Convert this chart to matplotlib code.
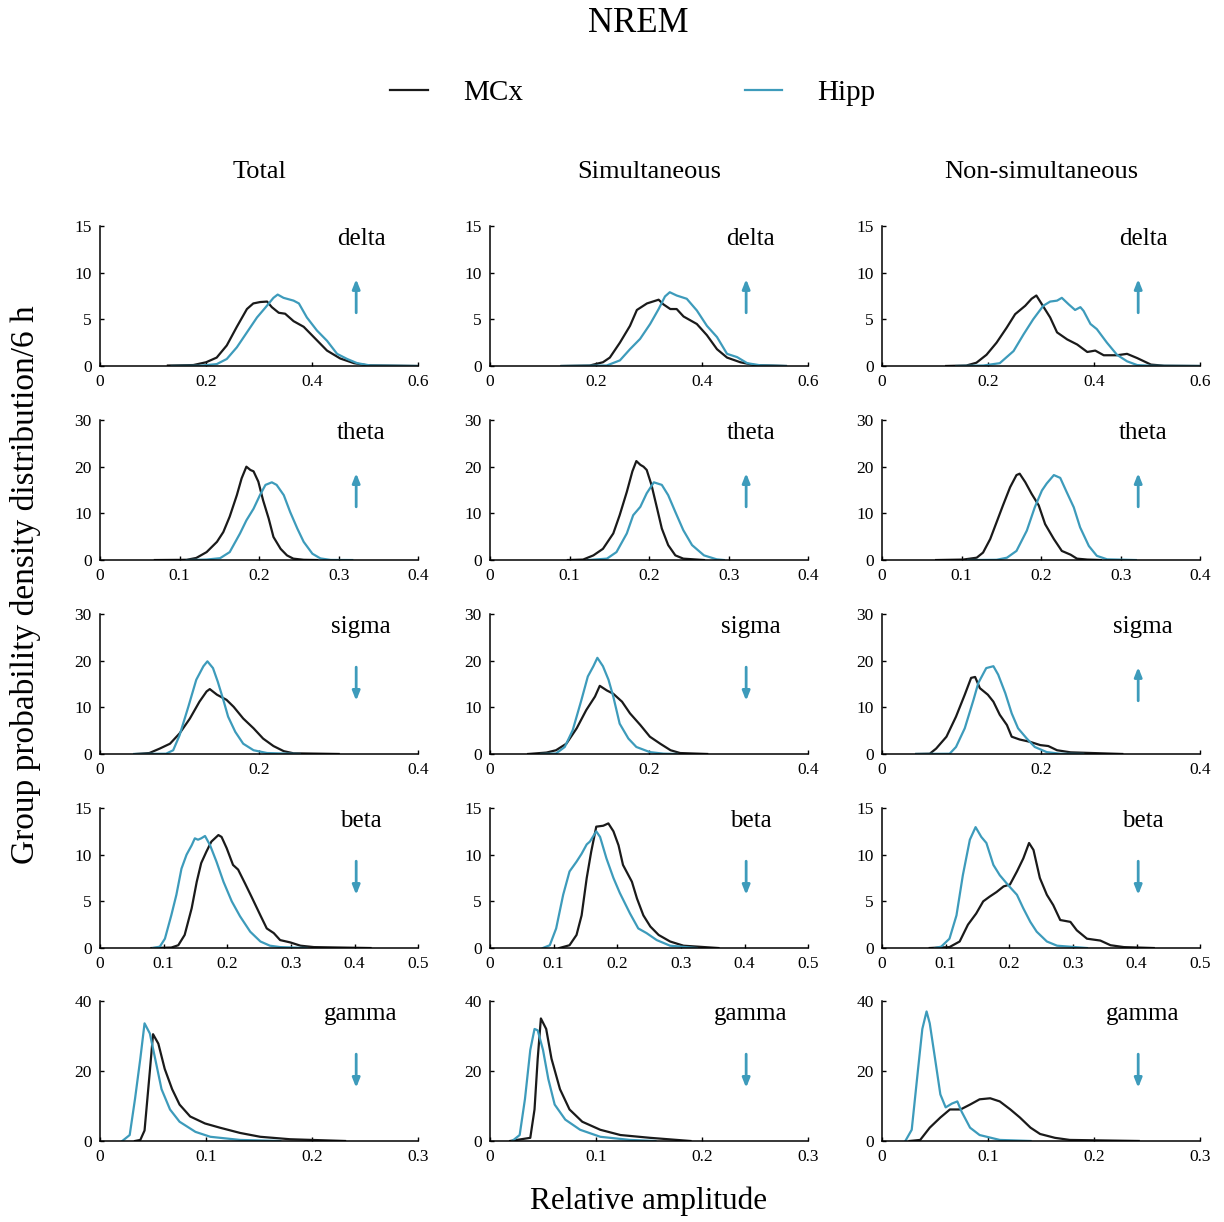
import numpy as np
import matplotlib
matplotlib.use("Agg")
import matplotlib.pyplot as plt

plt.rcParams['font.family'] = ['Liberation Serif', 'DejaVu Serif']

BLACK = '#1a1a1a'
TEAL = '#3d9bbb'

# ---- data (x = relative amplitude, y = density) ----
# delta
delta_tot_mcx_x = [0.128, 0.176, 0.2, 0.22, 0.239, 0.258, 0.277, 0.289, 0.302, 0.315, 0.324, 0.337, 0.349, 0.365, 0.384, 0.403, 0.428, 0.453, 0.479, 0.504, 0.6]
delta_tot_mcx_y = [0.05, 0.1, 0.4, 0.9, 2.2, 4.2, 6.1, 6.7, 6.85, 6.9, 6.3, 5.7, 5.6, 4.8, 4.2, 3.1, 1.65, 0.8, 0.3, 0.07, 0]
delta_tot_hipp_x = [0.135, 0.188, 0.22, 0.239, 0.258, 0.277, 0.296, 0.311, 0.327, 0.335, 0.346, 0.365, 0.375, 0.39, 0.409, 0.428, 0.447, 0.466, 0.485, 0.51, 0.6]
delta_tot_hipp_y = [0, 0.03, 0.2, 0.75, 2.0, 3.6, 5.2, 6.2, 7.3, 7.65, 7.3, 7.0, 6.7, 5.2, 3.8, 2.7, 1.3, 0.75, 0.3, 0.05, 0]
delta_sim_mcx_x = [0.135, 0.188, 0.213, 0.226, 0.245, 0.264, 0.277, 0.296, 0.318, 0.327, 0.34, 0.352, 0.365, 0.39, 0.409, 0.428, 0.447, 0.472, 0.498, 0.558]
delta_sim_mcx_y = [0, 0.05, 0.4, 0.9, 2.5, 4.3, 6.0, 6.7, 7.1, 6.6, 6.1, 6.1, 5.3, 4.5, 3.3, 1.8, 0.9, 0.4, 0.1, 0]
delta_sim_hipp_x = [0.135, 0.22, 0.245, 0.264, 0.283, 0.302, 0.318, 0.33, 0.339, 0.352, 0.371, 0.39, 0.409, 0.428, 0.447, 0.466, 0.485, 0.51, 0.558]
delta_sim_hipp_y = [0, 0.05, 0.6, 1.8, 2.9, 4.5, 6.1, 7.45, 7.9, 7.55, 7.2, 5.95, 4.3, 3.1, 1.3, 0.95, 0.3, 0.07, 0]
delta_non_mcx_x = [0.121, 0.159, 0.178, 0.197, 0.216, 0.235, 0.251, 0.27, 0.282, 0.291, 0.301, 0.317, 0.33, 0.349, 0.368, 0.387, 0.402, 0.418, 0.443, 0.462, 0.481, 0.507, 0.532, 0.6]
delta_non_mcx_y = [0, 0.05, 0.35, 1.2, 2.5, 4.1, 5.55, 6.45, 7.2, 7.55, 6.65, 5.2, 3.6, 2.85, 2.3, 1.5, 1.65, 1.15, 1.15, 1.3, 0.85, 0.15, 0.03, 0]
delta_non_hipp_x = [0.14, 0.191, 0.222, 0.248, 0.267, 0.285, 0.304, 0.317, 0.33, 0.339, 0.352, 0.364, 0.374, 0.38, 0.393, 0.405, 0.424, 0.443, 0.462, 0.481, 0.507, 0.6]
delta_non_hipp_y = [0, 0.05, 0.3, 1.6, 3.4, 5.0, 6.45, 6.9, 7.0, 7.3, 6.6, 6.0, 6.3, 5.9, 4.5, 3.95, 2.5, 1.2, 0.5, 0.1, 0.02, 0]

# theta
theta_tot_mcx_x = [0.069, 0.109, 0.121, 0.134, 0.147, 0.155, 0.163, 0.172, 0.178, 0.184, 0.189, 0.193, 0.199, 0.205, 0.212, 0.218, 0.227, 0.235, 0.243, 0.256, 0.273]
theta_tot_mcx_y = [0, 0.05, 0.45, 1.7, 3.9, 6.0, 9.3, 13.9, 17.5, 20.0, 19.3, 19.0, 16.8, 12.8, 8.9, 4.95, 2.4, 1.0, 0.3, 0.05, 0]
theta_tot_hipp_x = [0.109, 0.134, 0.151, 0.163, 0.176, 0.184, 0.193, 0.201, 0.208, 0.216, 0.222, 0.231, 0.239, 0.248, 0.256, 0.267, 0.277, 0.29, 0.317]
theta_tot_hipp_y = [0, 0.1, 0.4, 1.7, 5.7, 8.5, 11.0, 13.9, 16.1, 16.65, 16.1, 13.9, 10.3, 6.75, 3.9, 1.35, 0.35, 0.02, 0]
theta_sim_mcx_x = [0.098, 0.117, 0.13, 0.142, 0.155, 0.163, 0.172, 0.179, 0.184, 0.189, 0.193, 0.197, 0.203, 0.21, 0.216, 0.224, 0.233, 0.243, 0.269]
theta_sim_mcx_y = [0, 0.1, 1.0, 2.4, 5.7, 9.6, 14.6, 19.0, 21.2, 20.4, 20.0, 19.3, 16.1, 11.1, 6.75, 3.2, 1.0, 0.3, 0]
theta_sim_hipp_x = [0.123, 0.147, 0.159, 0.172, 0.18, 0.189, 0.197, 0.206, 0.216, 0.224, 0.233, 0.243, 0.254, 0.269, 0.285, 0.294]
theta_sim_hipp_y = [0, 0.3, 1.7, 5.7, 9.6, 11.4, 14.3, 16.65, 16.1, 13.9, 10.3, 6.4, 3.2, 1.0, 0.15, 0]
theta_non_mcx_x = [0.068, 0.102, 0.119, 0.127, 0.136, 0.144, 0.152, 0.161, 0.169, 0.173, 0.18, 0.188, 0.197, 0.205, 0.216, 0.226, 0.237, 0.245, 0.258, 0.275]
theta_non_mcx_y = [0, 0.1, 0.5, 1.6, 4.5, 8.1, 11.7, 15.6, 18.2, 18.5, 16.7, 14.2, 11.7, 7.7, 4.5, 1.95, 1.15, 0.3, 0.1, 0]
theta_non_hipp_x = [0.108, 0.144, 0.157, 0.169, 0.182, 0.192, 0.201, 0.207, 0.216, 0.224, 0.232, 0.241, 0.249, 0.26, 0.27, 0.283, 0.319]
theta_non_hipp_y = [0, 0.05, 0.5, 1.95, 6.3, 11.3, 14.9, 16.4, 18.2, 17.6, 14.6, 11.3, 7.0, 3.0, 0.9, 0.15, 0]

# sigma
sigma_tot_mcx_x = [0.045, 0.062, 0.075, 0.088, 0.1, 0.113, 0.125, 0.134, 0.138, 0.147, 0.159, 0.168, 0.18, 0.193, 0.205, 0.218, 0.231, 0.243, 0.3]
sigma_tot_mcx_y = [0, 0.2, 1.15, 2.2, 4.4, 7.6, 11.2, 13.4, 13.9, 12.7, 11.6, 10.1, 7.6, 5.5, 3.3, 1.7, 0.6, 0.15, 0]
sigma_tot_hipp_x = [0.043, 0.083, 0.092, 0.1, 0.111, 0.121, 0.13, 0.135, 0.142, 0.148, 0.155, 0.161, 0.17, 0.18, 0.193, 0.21, 0.251]
sigma_tot_hipp_y = [0, 0.05, 0.8, 4.0, 10.1, 15.9, 18.8, 19.85, 18.4, 15.5, 11.6, 8.0, 4.75, 2.2, 0.8, 0.2, 0]
sigma_sim_mcx_x = [0.048, 0.071, 0.083, 0.096, 0.109, 0.121, 0.132, 0.138, 0.147, 0.155, 0.166, 0.176, 0.189, 0.201, 0.214, 0.227, 0.239, 0.273]
sigma_sim_mcx_y = [0, 0.3, 0.8, 2.2, 5.5, 9.4, 12.3, 14.6, 13.6, 12.9, 11.2, 8.7, 6.2, 3.7, 2.2, 0.8, 0.2, 0]
sigma_sim_hipp_x = [0.064, 0.083, 0.094, 0.104, 0.115, 0.123, 0.13, 0.135, 0.142, 0.149, 0.155, 0.163, 0.174, 0.184, 0.201, 0.218, 0.235]
sigma_sim_hipp_y = [0, 0.1, 1.5, 5.1, 11.6, 16.6, 18.8, 20.6, 18.8, 15.9, 12.3, 6.5, 3.3, 1.5, 0.4, 0.07, 0]
sigma_non_mcx_x = [0.043, 0.06, 0.068, 0.081, 0.093, 0.104, 0.112, 0.117, 0.123, 0.133, 0.14, 0.148, 0.157, 0.163, 0.173, 0.186, 0.199, 0.209, 0.22, 0.237, 0.302]
sigma_non_mcx_y = [0, 0.05, 1.15, 3.7, 8.0, 12.7, 16.3, 16.5, 14.1, 12.7, 11.2, 8.4, 6.2, 3.7, 3.1, 2.6, 1.9, 1.7, 0.8, 0.35, 0]
sigma_non_hipp_x = [0.043, 0.085, 0.093, 0.104, 0.115, 0.121, 0.131, 0.14, 0.146, 0.155, 0.163, 0.171, 0.182, 0.192, 0.207, 0.224, 0.253]
sigma_non_hipp_y = [0, 0.05, 1.5, 5.5, 11.6, 15.2, 18.4, 18.8, 17.0, 13.0, 8.7, 5.5, 3.3, 1.5, 0.4, 0.05, 0]

# beta
beta_tot_mcx_x = [0.081, 0.112, 0.123, 0.133, 0.144, 0.152, 0.159, 0.167, 0.175, 0.186, 0.191, 0.199, 0.209, 0.217, 0.228, 0.238, 0.252, 0.262, 0.273, 0.283, 0.299, 0.315, 0.336, 0.425]
beta_tot_mcx_y = [0, 0.05, 0.3, 1.4, 4.25, 7.1, 9.1, 10.3, 11.4, 12.1, 11.9, 10.7, 8.9, 8.4, 6.9, 5.5, 3.5, 2.1, 1.6, 0.85, 0.6, 0.25, 0.1, 0]
beta_tot_hipp_x = [0.083, 0.094, 0.102, 0.112, 0.12, 0.128, 0.136, 0.144, 0.149, 0.154, 0.159, 0.165, 0.173, 0.183, 0.194, 0.207, 0.22, 0.236, 0.252, 0.267, 0.283, 0.325]
beta_tot_hipp_y = [0, 0.15, 1.0, 3.5, 5.7, 8.5, 10.0, 11.0, 11.75, 11.6, 11.75, 12.0, 11.0, 9.25, 7.1, 5.0, 3.4, 1.75, 0.7, 0.25, 0.1, 0]
beta_sim_mcx_x = [0.109, 0.125, 0.136, 0.144, 0.152, 0.159, 0.167, 0.178, 0.186, 0.194, 0.202, 0.209, 0.223, 0.231, 0.241, 0.252, 0.265, 0.283, 0.304, 0.359]
beta_sim_mcx_y = [0, 0.3, 1.4, 3.5, 7.5, 10.3, 13.0, 13.1, 13.35, 12.5, 11.0, 8.9, 7.1, 5.3, 3.5, 2.3, 1.4, 0.7, 0.25, 0]
beta_sim_hipp_x = [0.083, 0.094, 0.104, 0.115, 0.125, 0.136, 0.144, 0.152, 0.157, 0.167, 0.173, 0.183, 0.194, 0.204, 0.22, 0.233, 0.246, 0.262, 0.283, 0.325]
beta_sim_hipp_y = [0, 0.3, 2.1, 5.7, 8.2, 9.25, 10.1, 11.1, 11.4, 12.5, 11.9, 9.6, 7.5, 5.9, 3.7, 2.1, 1.6, 0.85, 0.25, 0]
beta_non_mcx_x = [0.075, 0.106, 0.122, 0.135, 0.148, 0.159, 0.169, 0.18, 0.191, 0.201, 0.212, 0.222, 0.231, 0.238, 0.248, 0.259, 0.269, 0.28, 0.296, 0.306, 0.322, 0.343, 0.359, 0.38, 0.427]
beta_non_mcx_y = [0, 0.1, 0.7, 2.5, 3.7, 5.0, 5.5, 6.0, 6.6, 6.8, 8.2, 9.6, 11.25, 10.5, 7.5, 5.7, 4.6, 3.0, 2.8, 1.9, 1.0, 0.8, 0.3, 0.1, 0]
beta_non_hipp_x = [0.083, 0.093, 0.106, 0.117, 0.127, 0.138, 0.147, 0.156, 0.164, 0.175, 0.185, 0.198, 0.212, 0.222, 0.233, 0.243, 0.259, 0.275, 0.322]
beta_non_hipp_y = [0, 0.15, 1.0, 3.5, 7.8, 11.6, 12.95, 11.9, 11.25, 8.9, 7.8, 6.75, 5.7, 4.25, 2.8, 1.75, 0.7, 0.25, 0]

# gamma
gamma_tot_mcx_x = [0.033, 0.038, 0.042, 0.047, 0.05, 0.055, 0.061, 0.068, 0.075, 0.085, 0.099, 0.113, 0.132, 0.151, 0.179, 0.231]
gamma_tot_mcx_y = [0, 0.3, 3, 20, 30.5, 27.8, 20.6, 14.8, 10.4, 7, 5, 3.8, 2.3, 1.2, 0.5, 0]
gamma_tot_hipp_x = [0.021, 0.028, 0.033, 0.038, 0.042, 0.047, 0.052, 0.058, 0.066, 0.075, 0.09, 0.104, 0.132, 0.17]
gamma_tot_hipp_y = [0, 1.7, 12, 23.5, 33.6, 30.7, 23.5, 14.8, 9, 5.5, 2.6, 1.2, 0.3, 0]
gamma_sim_mcx_x = [0.019, 0.038, 0.042, 0.045, 0.048, 0.053, 0.058, 0.066, 0.075, 0.087, 0.104, 0.123, 0.151, 0.189]
gamma_sim_mcx_y = [0, 0.9, 9, 23.5, 35, 32, 23.5, 14.8, 9, 5.5, 3.2, 1.7, 0.9, 0]
gamma_sim_hipp_x = [0.021, 0.028, 0.033, 0.038, 0.042, 0.045, 0.05, 0.055, 0.061, 0.071, 0.085, 0.104, 0.132, 0.156]
gamma_sim_hipp_y = [0, 1.7, 12, 26, 32, 31.6, 26, 17.7, 10.4, 6.1, 3.2, 1.2, 0.3, 0]
gamma_non_mcx_x = [0.026, 0.036, 0.045, 0.055, 0.064, 0.074, 0.083, 0.092, 0.102, 0.111, 0.121, 0.13, 0.14, 0.149, 0.163, 0.177, 0.242]
gamma_non_mcx_y = [0, 0.3, 3.8, 6.7, 9, 9, 10.4, 11.9, 12.2, 11.3, 9, 6.7, 3.8, 2.0, 0.9, 0.3, 0]
gamma_non_hipp_x = [0.022, 0.028, 0.034, 0.038, 0.042, 0.045, 0.05, 0.055, 0.06, 0.066, 0.071, 0.075, 0.083, 0.092, 0.111, 0.14]
gamma_non_hipp_y = [0, 3.2, 20.6, 32, 37, 33.6, 23.5, 13.3, 9.6, 10.7, 11.3, 8.4, 3.8, 1.7, 0.3, 0]

bands = ['delta', 'theta', 'sigma', 'beta', 'gamma']
columns = ['Total', 'Simultaneous', 'Non-simultaneous']
xlims = [0.6, 0.4, 0.4, 0.5, 0.3]
ylims = [15, 30, 30, 15, 40]
xticks = [[0, 0.2, 0.4, 0.6], [0, 0.1, 0.2, 0.3, 0.4], [0, 0.2, 0.4],
          [0, 0.1, 0.2, 0.3, 0.4, 0.5], [0, 0.1, 0.2, 0.3]]
yticks = [[0, 5, 10, 15], [0, 10, 20, 30], [0, 10, 20, 30], [0, 5, 10, 15], [0, 20, 40]]
# change direction marker per panel: True = up, False = down
arrows_up = [[True, True, True], [True, True, True], [False, False, True],
             [False, False, False], [False, False, False]]

curves = {
    'delta': [(delta_tot_mcx_x, delta_tot_mcx_y, delta_tot_hipp_x, delta_tot_hipp_y),
              (delta_sim_mcx_x, delta_sim_mcx_y, delta_sim_hipp_x, delta_sim_hipp_y),
              (delta_non_mcx_x, delta_non_mcx_y, delta_non_hipp_x, delta_non_hipp_y)],
    'theta': [(theta_tot_mcx_x, theta_tot_mcx_y, theta_tot_hipp_x, theta_tot_hipp_y),
              (theta_sim_mcx_x, theta_sim_mcx_y, theta_sim_hipp_x, theta_sim_hipp_y),
              (theta_non_mcx_x, theta_non_mcx_y, theta_non_hipp_x, theta_non_hipp_y)],
    'sigma': [(sigma_tot_mcx_x, sigma_tot_mcx_y, sigma_tot_hipp_x, sigma_tot_hipp_y),
              (sigma_sim_mcx_x, sigma_sim_mcx_y, sigma_sim_hipp_x, sigma_sim_hipp_y),
              (sigma_non_mcx_x, sigma_non_mcx_y, sigma_non_hipp_x, sigma_non_hipp_y)],
    'beta': [(beta_tot_mcx_x, beta_tot_mcx_y, beta_tot_hipp_x, beta_tot_hipp_y),
             (beta_sim_mcx_x, beta_sim_mcx_y, beta_sim_hipp_x, beta_sim_hipp_y),
             (beta_non_mcx_x, beta_non_mcx_y, beta_non_hipp_x, beta_non_hipp_y)],
    'gamma': [(gamma_tot_mcx_x, gamma_tot_mcx_y, gamma_tot_hipp_x, gamma_tot_hipp_y),
              (gamma_sim_mcx_x, gamma_sim_mcx_y, gamma_sim_hipp_x, gamma_sim_hipp_y),
              (gamma_non_mcx_x, gamma_non_mcx_y, gamma_non_hipp_x, gamma_non_hipp_y)],
}


def fmt(v):
    return '0' if v == 0 else ('%g' % v)


fig = plt.figure(figsize=(12.24, 12.22), dpi=100)

lefts = [0.0817, 0.4003, 0.7206]
bottoms = [0.7005, 0.5417, 0.383, 0.2242, 0.0663]
w, h = 0.26, 0.1146

handles = None
for r, band in enumerate(bands):
    for c in range(3):
        ax = fig.add_axes([lefts[c], bottoms[r], w, h])
        mx, my, hx, hy = curves[band][c]
        l1, = ax.plot(mx, my, color=BLACK, lw=1.6, label='MCx')
        l2, = ax.plot(hx, hy, color=TEAL, lw=1.6, label='Hipp')
        if handles is None:
            handles = [l1, l2]
        ax.set_xlim(0, xlims[r])
        ax.set_ylim(0, ylims[r])
        ax.set_xticks(xticks[r])
        ax.set_xticklabels([fmt(t) for t in xticks[r]])
        ax.set_yticks(yticks[r])
        ax.set_yticklabels([fmt(t) for t in yticks[r]])
        for s in ['top', 'right']:
            ax.spines[s].set_visible(False)
        for s in ['left', 'bottom']:
            ax.spines[s].set_linewidth(1.1)
        ax.tick_params(direction='in', length=3, width=1.0, labelsize=12.5, pad=6)
        ax.text(0.82, 0.91, band, transform=ax.transAxes, ha='center', va='center', fontsize=18)
        if arrows_up[r][c]:
            start, end = (0.805, 0.38), (0.805, 0.62)
        else:
            start, end = (0.805, 0.62), (0.805, 0.38)
        ax.annotate('', xy=end, xytext=start, xycoords='axes fraction',
                    arrowprops=dict(arrowstyle='-|>,head_length=0.55,head_width=0.22',
                                    color=TEAL, lw=2.0, shrinkA=0, shrinkB=0))
        if r == 0:
            ax.text(0.5, 1.385, columns[c], transform=ax.transAxes, ha='center', va='center', fontsize=19)

fig.text(0.5215, 1 - 24 / 1222, 'NREM', ha='center', va='center', fontsize=25)
fig.legend(handles, ['MCx', 'Hipp'], loc='center', bbox_to_anchor=(0.517, 1 - 93 / 1222),
           ncol=2, frameon=False, fontsize=21, handlelength=1.3, handletextpad=1.2,
           columnspacing=7.6)
fig.text(0.5295, 1 - 1201 / 1222, 'Relative amplitude', ha='center', va='center', fontsize=22.5)
fig.text(0.021, 1 - 585 / 1222, 'Group probability density distribution/6 h', ha='center',
         va='center', rotation=90, fontsize=24)

fig.savefig('out.png', dpi=100)
